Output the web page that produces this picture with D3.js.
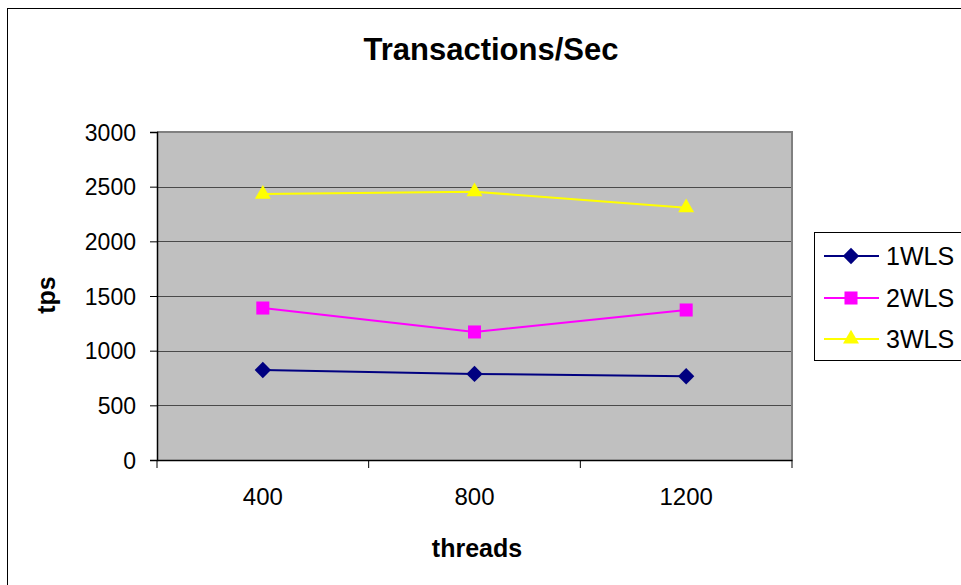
<!DOCTYPE html>
<html><head><meta charset="utf-8">
<script src="https://cdn.jsdelivr.net/npm/d3@7"></script>
<style>body{margin:0;background:#fff}svg{display:block}text{font-family:"Liberation Sans",Arial,sans-serif}</style>
</head><body>
<script>
const categories = ["400", "800", "1200"];
const seriesNames = ["1WLS", "2WLS", "3WLS"];
const values1WLS = [823, 787, 766];
const values2WLS = [1390, 1171, 1372];
const values3WLS = [2432, 2454, 2308];
const yTicks = [0, 500, 1000, 1500, 2000, 2500, 3000];
const colors = ["#000080", "#FF00FF", "#FFFF00"];
const symbols = [d3.symbolDiamond2, d3.symbolSquare, d3.symbolTriangle];

const W = 961, H = 585;
const svg = d3.select("body").append("svg").attr("width", W).attr("height", H);

// outer frame
svg.append("rect").attr("x", 7.5).attr("y", 8.5).attr("width", 1000).attr("height", 700)
  .attr("fill", "#fff").attr("stroke", "#000").attr("stroke-width", 1);

const plot = {left: 157, right: 792, top: 132, bottom: 460};
const x = d3.scaleBand().domain(categories).range([plot.left, plot.right]).padding(0);
const y = d3.scaleLinear().domain([0, 3000]).range([plot.bottom, plot.top]);

// plot area background
svg.append("rect").attr("x", plot.left).attr("y", plot.top)
  .attr("width", plot.right - plot.left).attr("height", plot.bottom - plot.top)
  .attr("fill", "#C0C0C0");

// gridlines
svg.append("g").selectAll("line").data(yTicks.filter(d => d > 0 && d < 3000)).join("line")
  .attr("x1", plot.left).attr("x2", plot.right)
  .attr("y1", d => Math.round(y(d)) + 0.5).attr("y2", d => Math.round(y(d)) + 0.5)
  .attr("stroke", "#4a4a4a").attr("stroke-width", 1);

// plot border top/right
svg.append("path")
  .attr("d", `M${plot.left},${plot.top} H${plot.right} V${plot.bottom}`)
  .attr("fill", "none").attr("stroke", "#808080").attr("stroke-width", 2);

// y axis
const yAxis = svg.append("g").attr("transform", `translate(${plot.left},0)`)
  .call(d3.axisLeft(y).tickValues(yTicks).tickSize(7).tickPadding(14).tickFormat(d3.format("d")));
yAxis.select(".domain").attr("stroke", "#000").attr("stroke-width", 1.5);
yAxis.selectAll(".tick line").attr("stroke", "#000");
yAxis.selectAll(".tick text").attr("font-size", 23).attr("fill", "#000")
  .attr("font-family", "Liberation Sans, Arial, sans-serif").attr("dy", "0.36em");

// x axis
const xAxis = svg.append("g").attr("transform", `translate(0,${plot.bottom})`)
  .call(d3.axisBottom(x).tickSize(0).tickPadding(28));
xAxis.select(".domain").attr("stroke", "#000").attr("stroke-width", 1.5);
xAxis.selectAll(".tick text").attr("font-size", 24).attr("fill", "#000")
  .attr("font-family", "Liberation Sans, Arial, sans-serif");
// category boundary ticks
const bounds = categories.map(c => x(c)).concat([x(categories[categories.length - 1]) + x.bandwidth()]);
svg.append("g").selectAll("line").data(bounds).join("line")
  .attr("x1", d => d).attr("x2", d => d)
  .attr("y1", plot.bottom).attr("y2", plot.bottom + 8)
  .attr("stroke", "#000").attr("stroke-width", 1);

// series
const allSeries = [values1WLS, values2WLS, values3WLS];
const line = d3.line().x((d, i) => x(categories[i]) + x.bandwidth() / 2).y(d => y(d));
allSeries.forEach((vals, s) => {
  svg.append("path").datum(vals).attr("d", line)
    .attr("fill", "none").attr("stroke", colors[s]).attr("stroke-width", 2);
  svg.append("g").selectAll("path").data(vals).join("path")
    .attr("transform", (d, i) => `translate(${x(categories[i]) + x.bandwidth() / 2},${y(d)})`)
    .attr("d", d3.symbol().type(symbols[s]).size(s === 2 ? 110 : 170))
    .attr("fill", colors[s]);
});

// title
svg.append("text").attr("x", 491).attr("y", 60).attr("text-anchor", "middle")
  .attr("font-size", 31).attr("font-weight", "bold").text("Transactions/Sec");

// axis titles
svg.append("text").attr("x", 477).attr("y", 557).attr("text-anchor", "middle")
  .attr("font-size", 25).attr("font-weight", "bold").text("threads");
svg.append("text").attr("transform", "translate(55,295) rotate(-90)").attr("text-anchor", "middle")
  .attr("font-size", 25).attr("font-weight", "bold").text("tps");

// legend
const lg = svg.append("g");
lg.append("rect").attr("x", 814.5).attr("y", 232.5).attr("width", 200).attr("height", 128)
  .attr("fill", "#fff").attr("stroke", "#000").attr("stroke-width", 1);
const rowsY = [256, 298, 339];
seriesNames.forEach((n, i) => {
  lg.append("line").attr("x1", 824).attr("x2", 879).attr("y1", rowsY[i]).attr("y2", rowsY[i])
    .attr("stroke", colors[i]).attr("stroke-width", 2);
  lg.append("path").attr("transform", `translate(851,${rowsY[i]})`)
    .attr("d", d3.symbol().type(symbols[i]).size(i === 2 ? 110 : 170)).attr("fill", colors[i]);
  lg.append("text").attr("x", 886).attr("y", rowsY[i]).attr("dy", "0.36em")
    .attr("font-size", 25).text(n);
});
</script>
</body></html>
